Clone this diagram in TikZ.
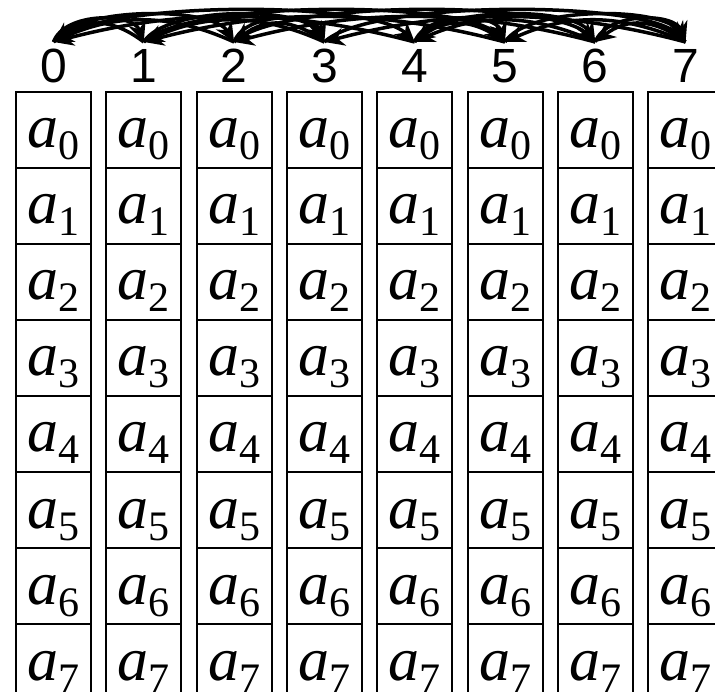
\documentclass[tikz,border=0pt]{standalone}
\usepackage{fontspec}
\usepackage{tikz}
\usetikzlibrary{arrows.meta}
\newfontfamily\digitfont{Liberation Sans}
\newfontfamily\cellfont{Liberation Serif}

\begin{document}
\begin{tikzpicture}[x=1pt, y=-1pt,
    cell/.style={draw, line width=2pt, minimum width=75pt, minimum height=76pt,
                 inner sep=0pt, text height=48pt, text depth=12pt,
                 font=\cellfont\fontsize{62}{72}\selectfont},
    colnum/.style={anchor=base, inner sep=0pt, font=\digitfont\fontsize{48}{56}\selectfont},
    link/.style={line width=3.5pt, -{Stealth[length=20pt, width=18pt]}}]

    % Define parameters
    \def\pitch{90.3} % distance between two columns
    \def\rowh{76}    % height of one cell

    % Frame of the picture (columns run past the right and bottom edges)
    \clip (0,0) rectangle (715,692);

    % Columns of cells with their numbers on top
    \foreach \i in {0,...,7} {
        \pgfmathsetmacro\cx{53.5+\pitch*\i}
        \coordinate (t\i) at (\cx,42);
        \node[colnum] (n\i) at (\cx,83) {\i};
        \foreach \j in {0,...,7} {
            \node[cell] (c\i\j) at (\cx,{130+\rowh*\j})
                {\itshape a\upshape\raisebox{-12pt}{\fontsize{42}{42}\selectfont\j}};
        }
    }

    % Exchanges between partners at distance 1, 2 and 4
    \foreach \a/\b/\h in {0/1/30, 2/3/30, 4/5/30, 6/7/30,
                          0/2/36, 1/3/36, 4/6/36, 5/7/36,
                          0/4/42, 1/5/42, 2/6/42, 3/7/42} {
        \pgfmathsetmacro\d{\pitch*(\b-\a)}
        \draw[link] (t\a) .. controls +({0.12*\d},-\h) and +({-0.12*\d},-\h) .. (t\b);
        \draw[link] (t\b) .. controls +({-0.35*\d},{-0.8*\h}) and +({0.35*\d},{-0.8*\h}) .. (t\a);
    }
\end{tikzpicture}
\end{document}
